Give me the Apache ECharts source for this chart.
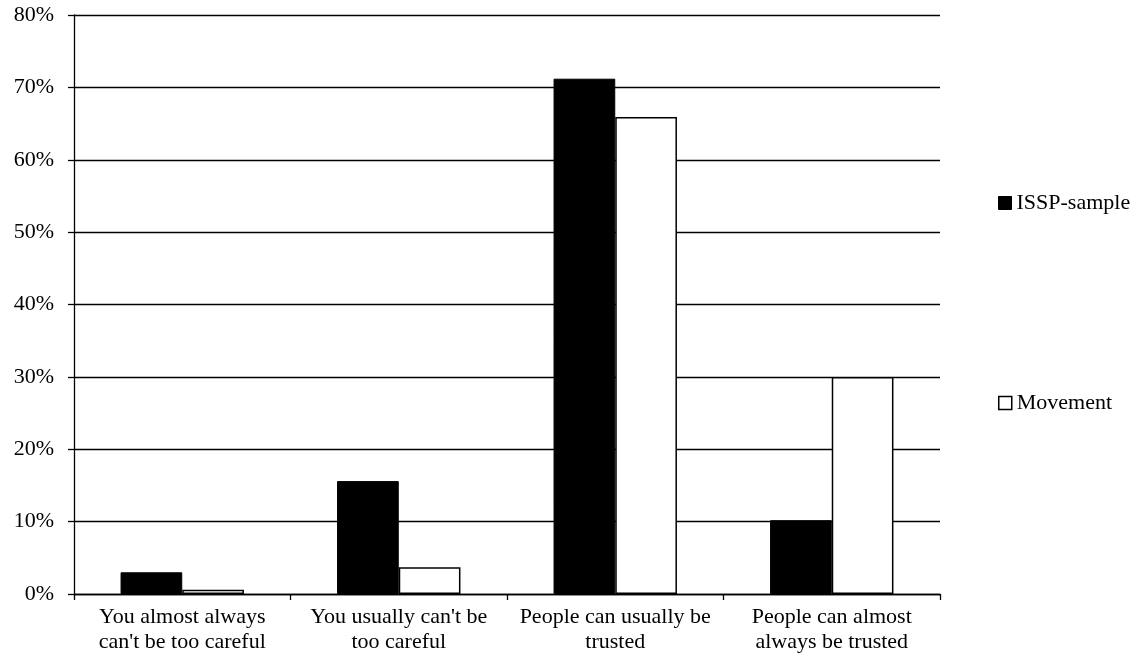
<!DOCTYPE html>
<html><head><meta charset="utf-8">
<script src="https://cdn.jsdelivr.net/npm/echarts@6/dist/echarts.min.js"></script>
<style>html,body{margin:0;padding:0;background:#fff}#c{width:1141px;height:665px}</style>
</head><body><div id="c"></div>
<script>
const categories = ["You almost always\ncan't be too careful", "You usually can't be\ntoo careful", "People can usually be\ntrusted", "People can almost\nalways be trusted"];
const seriesNames = ["ISSP-sample", "Movement"];
const isspValues = [3.0, 15.6, 71.2, 10.2];
const movementValues = [0.6, 3.7, 65.9, 30.0];
const yTicks = {min: 0, max: 80, interval: 10};

const FONT = "'Liberation Serif', 'DejaVu Serif', serif";
const FS = 22;
const chart = echarts.init(document.getElementById('c'), null, {renderer: 'canvas'});
const legendText = {fontFamily: FONT, fontSize: FS, lineHeight: 22, color: '#000'};
chart.setOption({
  animation: false,
  backgroundColor: '#fff',
  textStyle: {fontFamily: FONT, color: '#000'},
  grid: {left: 74, right: 201, top: 15, bottom: 71, containLabel: false},
  legend: [
    {left: 993, top: 187, itemWidth: 13, itemHeight: 13, itemGap: 4, textStyle: legendText,
     data: [{name: seriesNames[0], icon: 'rect', itemStyle: {color: '#000', borderColor: '#000', borderWidth: 1}}]},
    {left: 993, top: 387, itemWidth: 13, itemHeight: 13, itemGap: 4, textStyle: legendText,
     data: [{name: seriesNames[1], icon: 'rect', itemStyle: {color: '#fff', borderColor: '#000', borderWidth: 1.5}}]}
  ],
  xAxis: {
    type: 'category', data: categories,
    axisLine: {lineStyle: {color: '#000', width: 1.3}},
    axisTick: {show: true, length: 6, lineStyle: {color: '#000', width: 1.3}},
    axisLabel: {fontFamily: FONT, fontSize: FS, color: '#000', margin: 11, lineHeight: 25, interval: 0}
  },
  yAxis: {
    type: 'value', min: yTicks.min, max: yTicks.max, interval: yTicks.interval,
    axisLine: {show: true, lineStyle: {color: '#000', width: 1.3}},
    axisTick: {show: true, length: 6, lineStyle: {color: '#000', width: 1.3}},
    axisLabel: {fontFamily: FONT, fontSize: FS, color: '#000', margin: 20, formatter: v => v + '%'},
    splitLine: {show: true, lineStyle: {color: '#000', width: 1.3}}
  },
  series: [
    {name: seriesNames[0], type: 'bar', data: isspValues, barGap: '0%', barCategoryGap: '43%',
     itemStyle: {color: '#000', borderColor: '#000', borderWidth: 1}},
    {name: seriesNames[1], type: 'bar', data: movementValues,
     itemStyle: {color: '#fff', borderColor: '#000', borderWidth: 1.5}}
  ]
});
</script></body></html>
